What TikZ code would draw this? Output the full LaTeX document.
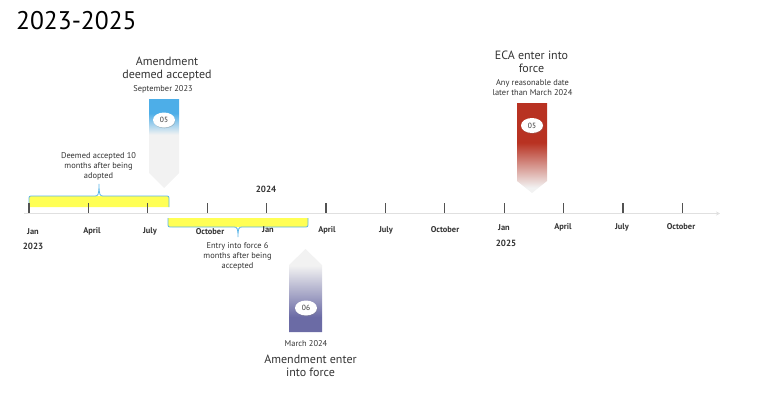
\documentclass[tikz,border=0pt]{standalone}
\usepackage{fontspec}
\setmainfont{PT Sans}
\usetikzlibrary{arrows.meta,shapes.geometric,shadows}

\definecolor{mkblue}{HTML}{4DAEE8}
\definecolor{mkred}{HTML}{B83222}
\definecolor{mkpurple}{HTML}{6B6BA5}
\definecolor{mkgray}{HTML}{F2F2F2}
\definecolor{hiyellow}{HTML}{FFFF55}
\definecolor{braceblue}{HTML}{5BB5E8}
\definecolor{axisgray}{HTML}{E0E0E0}
\definecolor{txt}{HTML}{333333}

% fades of the three markers (inner 25bp..75bp = the shape)
\pgfdeclareverticalshading{bluefade}{100bp}{color(0bp)=(mkgray); color(55bp)=(mkgray); color(67bp)=(mkblue); color(100bp)=(mkblue)}
\pgfdeclareverticalshading{redfade}{100bp}{color(0bp)=(mkgray); color(28bp)=(mkgray); color(53bp)=(mkred); color(100bp)=(mkred)}
\pgfdeclareverticalshading{purplefade}{100bp}{color(0bp)=(mkpurple); color(34bp)=(mkpurple); color(65bp)=(mkgray); color(100bp)=(mkgray)}

\begin{document}
\begin{tikzpicture}[x=1pt,y=-1pt,>={Stealth},
  every node/.style={font=\fontsize{8.4}{10}\selectfont,text=txt,align=center,inner sep=0pt},
  month/.style={font=\fontsize{8.4}{10}\selectfont\bfseries},
  yearlbl/.style={font=\fontsize{9}{10}\selectfont\bfseries},
  event/.style={font=\fontsize{12}{13}\selectfont},
  marker/.style={fill=white,ellipse,minimum width=22pt,minimum height=15pt,font=\fontsize{7.5}{8}\selectfont,
    drop shadow={shadow xshift=0.4pt,shadow yshift=-0.8pt,opacity=0.35}},
  bracefill/.style={fill=hiyellow},
  braceline/.style={draw=braceblue,line width=0.8pt}]
\useasboundingbox (0,0) rectangle (768,420);

\node[font=\fontsize{25.5}{30}\selectfont,anchor=west,text=black] (title) at (16,21) {2023-2025};

% brace above: 10 months
\fill[bracefill] (29,207) -- (29,200) .. controls (29,196) .. (33,196) -- (165,196) .. controls (169,196) .. (169,200) -- (169,207) -- cycle;
\draw[braceline] (29,207) -- (29,200) .. controls (29,196) and (29,196) .. (33,196) -- (95,196)
  .. controls (98,196) and (99,195) .. (99,184) .. controls (99,195) and (100,196) .. (103,196)
  -- (165,196) .. controls (169,196) and (169,196) .. (169,200) -- (169,207);
% brace below: 6 months
\fill[bracefill] (168,218) -- (308,218) -- (308,223) .. controls (308,227) .. (304,227) -- (172,227) .. controls (168,227) .. (168,223) -- cycle;
\draw[braceline] (168,218) -- (168,223) .. controls (168,227) and (168,227) .. (172,227) -- (234,227)
  .. controls (237,227) and (238,228) .. (238,237) .. controls (238,228) and (239,227) .. (242,227)
  -- (304,227) .. controls (308,227) and (308,227) .. (308,223) -- (308,218);

% axis
\coordinate (axisL) at (24,213.5);
\coordinate (axisR) at (720,213.5);
\draw[axisgray,line width=1.6pt,-{Stealth[length=4pt,width=4pt]}] (axisL) -- (axisR);
\foreach \i in {0,...,11} { \draw[txt!85,line width=1.1pt] ({29+59.4*\i},203) -- ++(0,10); }

\foreach \x/\y/\m in {33/231.5/Jan,92/231.5/April,150/231.5/July,210/231.5/October,268/230/Jan,327/230/April,
  386/230/July,445/230/October,504/227.5/Jan,563/227/April,622/227/July,681/227/October}
  { \node[month] (m\x) at (\x,\y) {\m}; }
\node[yearlbl] (y2023) at (33,246) {2023};
\node[yearlbl] (y2024) at (266,189) {2024};
\node[yearlbl] (y2025) at (506,243) {2025};

\node (deemed) at (98.5,166.5) {Deemed accepted 10\\months after being\\adopted};
\node (entry) at (237.5,256) {Entry into force 6\\months after being\\accepted};

% marker 05: amendment deemed accepted
\shade[shading=bluefade] (149,99) -- (179,99) -- (179,173) -- (164,188) -- (149,173) -- cycle;
\node[marker] (mk1) at (164,120) {05};
\node[event] (ev1) at (167,68.5) {Amendment\\deemed accepted};
\node (dt1) at (163,89) {September 2023};

% marker 05: ECA enter into force
\shade[shading=redfade] (517,103) -- (547,103) -- (547,181) -- (532,193) -- (517,181) -- cycle;
\node[marker] (mk2) at (532,125.5) {05};
\node[event] (ev2) at (531.5,61.5) {ECA enter into\\force};
\node (dt2) at (532.5,88) {Any reasonable date\\later than March 2024};

% marker 06: amendment enter into force
\shade[shading=purplefade] (305.5,249) -- (322,265) -- (322,332) -- (289,332) -- (289,265) -- cycle;
\node[marker] (mk3) at (306,308) {06};
\node (dt3) at (306,344) {March 2024};
\node[event] (ev3) at (310.5,365.5) {Amendment enter\\into force};
\end{tikzpicture}
\end{document}
